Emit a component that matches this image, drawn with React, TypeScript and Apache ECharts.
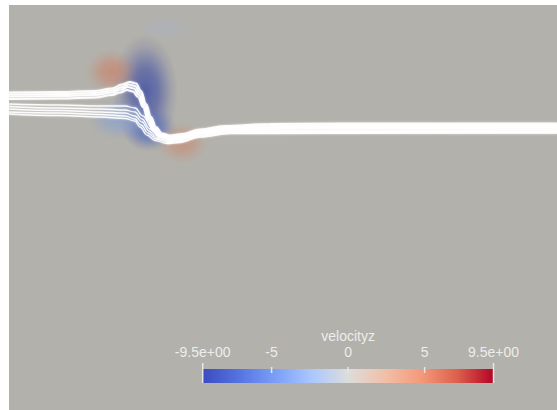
import React, { useEffect, useRef } from "react";
import * as echarts from "echarts";

// Slice domain (mm): x along the channel, y across it (downwards)
const domainX: [number, number] = [0, 548];
const domainY: [number, number] = [0, 405];

// velocityz lobes: centre (mm), extent (mm) and peak value
const lobeCenters: [number, number][] = [
  [136, 87],
  [141, 124],
  [112, 114],
  [103, 67],
  [173, 138],
  [156, 23],
];
const lobeExtents: [number, number][] = [
  [66, 116],
  [56, 46],
  [72, 44],
  [54, 46],
  [52, 42],
  [70, 26],
];
const lobeValues: number[] = [-9, -6.5, -2.5, 4.2, 3.5, -0.5];

// Streamlines traced through the slice (mm)
const upperStreamlines: [number, number][][] = [
  [[0, 87.5], [51, 87], [86, 86], [103, 83.5], [113, 79.5], [121, 77], [127, 78.5], [132, 86], [137, 99], [142, 112], [147, 122], [153, 128.5], [161, 130.5], [173, 129], [191, 124.5], [216, 121], [261, 119], [331, 118.5], [548, 118.5]],
  [[0, 89.5], [51, 89], [86, 88], [103, 85.5], [113, 82], [120, 79.5], [126, 81], [131, 88], [136, 100], [141, 113], [146, 123], [152, 129.5], [161, 132], [173, 130.5], [191, 126], [216, 122], [261, 120.5], [331, 120], [548, 120]],
  [[0, 91.5], [51, 91], [86, 90], [103, 87.5], [112, 84.5], [119, 82], [125, 83.5], [130, 90], [135, 101], [140, 114], [145, 124], [151, 130.5], [161, 133], [173, 131.5], [191, 127], [216, 123], [261, 122], [548, 121.5]],
  [[0, 94], [51, 93.5], [86, 92.5], [103, 90], [111, 87.5], [118, 85], [124, 86.5], [129, 92], [134, 102], [139, 115], [144, 125], [150, 131.5], [161, 134], [173, 132.5], [191, 128], [216, 124], [261, 123], [548, 123]],
];
const lowerStreamlines: [number, number][][] = [
  [[0, 99], [51, 100], [91, 101], [116, 101], [126, 103], [134, 111], [143, 123], [151, 130.5], [159, 134.5], [171, 133.5], [191, 128], [221, 124.5], [291, 124], [548, 124.5]],
  [[0, 101.5], [51, 103], [91, 104], [116, 105], [126, 107], [133, 114], [141, 124], [149, 131.5], [159, 135.5], [171, 134.5], [191, 129], [221, 125.5], [291, 125.5], [548, 125.5]],
  [[0, 104], [51, 105.5], [91, 107], [116, 108], [126, 111], [133, 117], [140, 126], [148, 133], [159, 136.5], [171, 135.5], [191, 130], [221, 126.5], [291, 126.5], [548, 126.5]],
  [[0, 107], [51, 108], [91, 109.5], [116, 111], [126, 114], [132, 120], [139, 128], [147, 134], [159, 137.5], [171, 136.5], [191, 131], [221, 127.5], [548, 127.5]],
  [[0, 109], [51, 110.5], [91, 112], [116, 113.5], [126, 116], [131, 122], [138, 130], [146, 135.5], [158, 138.5], [171, 137.5], [191, 132], [221, 128.5], [548, 128]],
];

// Colour bar
const colorbarTitle = "velocityz";
const rangeMin = -9.5;
const rangeMax = 9.5;
const colorbarTicks: number[] = [-9.5, -5, 0, 5, 9.5];

// Cool-to-warm diverging map (t in 0..1 -> rgb)
const coolWarm: [number, number, number, number][] = [
  [0, 59, 76, 192],
  [0.125, 86, 115, 224],
  [0.25, 122, 159, 248],
  [0.375, 170, 199, 253],
  [0.5, 221, 221, 221],
  [0.625, 241, 192, 168],
  [0.75, 244, 154, 123],
  [0.875, 221, 96, 76],
  [1, 180, 4, 38],
];

function mapColor(v: number): [number, number, number] {
  const t = Math.min(1, Math.max(0, (v - rangeMin) / (rangeMax - rangeMin)));
  for (let i = 1; i < coolWarm.length; i++) {
    const a = coolWarm[i - 1];
    const b = coolWarm[i];
    if (t <= b[0]) {
      const f = (t - a[0]) / (b[0] - a[0]);
      return [a[1] + (b[1] - a[1]) * f, a[2] + (b[2] - a[2]) * f, a[3] + (b[3] - a[3]) * f];
    }
  }
  const l = coolWarm[coolWarm.length - 1];
  return [l[1], l[2], l[3]];
}

const rgba = (c: [number, number, number], a: number, k = 1) =>
  `rgba(${Math.round(c[0] * k)},${Math.round(c[1] * k)},${Math.round(c[2] * k)},${a})`;

const SHADE = 0.82;
const BG = "#b3b1ab";
const TEXT = "#ededed";
const FONT = "Liberation Sans";

export default function App() {
  const ref = useRef<HTMLDivElement>(null);

  useEffect(() => {
    if (!ref.current) return;
    const chart = echarts.init(ref.current, undefined, { renderer: "svg" });
    const w = ref.current.clientWidth;
    const h = ref.current.clientHeight;
    const kx = w / (domainX[1] - domainX[0]);
    const ky = h / (domainY[1] - domainY[0]);

    const lobeData = lobeCenters.map((c, i) => {
      const col = mapColor(lobeValues[i]);
      return {
        value: [c[0], c[1], lobeValues[i]],
        symbolSize: [lobeExtents[i][0] * kx, lobeExtents[i][1] * ky],
        itemStyle: {
          color: new echarts.graphic.RadialGradient(0.5, 0.5, 0.5, [
            { offset: 0, color: rgba(col, 0.95, SHADE) },
            { offset: 0.4, color: rgba(col, 0.7, SHADE) },
            { offset: 0.78, color: rgba(col, 0.18, SHADE) },
            { offset: 1, color: rgba(col, 0, SHADE) },
          ]),
        },
      };
    });

    const lineSeries = (lines: [number, number][][], width: number) =>
      lines.map((pts) => ({
        type: "line",
        xAxisIndex: 0,
        yAxisIndex: 0,
        data: pts,
        showSymbol: false,
        smooth: 0.4,
        smoothMonotone: "x",
        silent: true,
        z: 3,
        lineStyle: {
          color: "#ffffff",
          width,
          opacity: 0.93,
          shadowColor: "rgba(255,255,255,0.6)",
          shadowBlur: 2,
        },
      }));

    const gradientStops = coolWarm.map((s) => ({
      offset: s[0],
      color: `rgb(${s[1]},${s[2]},${s[3]})`,
    }));

    chart.setOption({
      animation: false,
      backgroundColor: BG,
      grid: [
        { left: 0, top: 0, right: 0, bottom: 0 },
        { left: 193.7, top: 364, width: 290.8, height: 14 },
      ],
      xAxis: [
        { type: "value", min: domainX[0], max: domainX[1], show: false, gridIndex: 0 },
        {
          type: "value",
          gridIndex: 1,
          min: rangeMin,
          max: rangeMax,
          position: "top",
          name: colorbarTitle,
          nameLocation: "middle",
          nameGap: 26,
          nameTextStyle: { color: TEXT, fontSize: 14, fontFamily: FONT },
          axisLine: { show: false },
          axisTick: { show: false },
          splitLine: { show: false },
          axisLabel: {
            customValues: colorbarTicks,
            color: TEXT,
            fontSize: 14,
            fontFamily: FONT,
            margin: 10,
            showMinLabel: true,
            showMaxLabel: true,
            alignMinLabel: "center",
            alignMaxLabel: "center",
            hideOverlap: false,
            formatter: (v: number) =>
              Math.abs(v) === rangeMax ? v.toExponential(1).replace(/e([+-])(\d)$/, "e$10$2") : String(v),
          },
        },
      ],
      yAxis: [
        { type: "value", min: domainY[0], max: domainY[1], inverse: true, show: false, gridIndex: 0 },
        { type: "value", min: 0, max: 1, show: false, gridIndex: 1 },
      ],
      series: [
        {
          type: "scatter",
          xAxisIndex: 0,
          yAxisIndex: 0,
          symbol: "circle",
          data: lobeData,
          silent: true,
          z: 1,
        },
        ...lineSeries(upperStreamlines, 2.1),
        ...lineSeries(lowerStreamlines, 1.3),
        {
          type: "custom",
          xAxisIndex: 1,
          yAxisIndex: 1,
          silent: true,
          data: [[rangeMin, rangeMax]],
          renderItem: (_params: any, api: any) => {
            const p0 = api.coord([rangeMin, 1]);
            const p1 = api.coord([rangeMax, 0]);
            const top = p0[1];
            const bottom = p1[1];
            const children: any[] = [
              {
                type: "rect",
                shape: { x: p0[0], y: top, width: p1[0] - p0[0], height: bottom - top },
                style: { fill: new echarts.graphic.LinearGradient(0, 0, 1, 0, gradientStops) },
              },
            ];
            colorbarTicks.forEach((t) => {
              const x = api.coord([t, 0])[0];
              const end = t === rangeMin || t === rangeMax;
              children.push({
                type: "line",
                shape: { x1: x, y1: end ? top - 6 : top - 2, x2: x, y2: end ? bottom : top + 4 },
                style: { stroke: "#e6e6e6", lineWidth: 1.5 },
              });
            });
            return { type: "group", children };
          },
        },
      ],
    });

    return () => chart.dispose();
  }, []);

  return (
    <div
      ref={ref}
      style={{ position: "absolute", left: 9, top: 5, width: 548, height: 405 }}
    />
  );
}
